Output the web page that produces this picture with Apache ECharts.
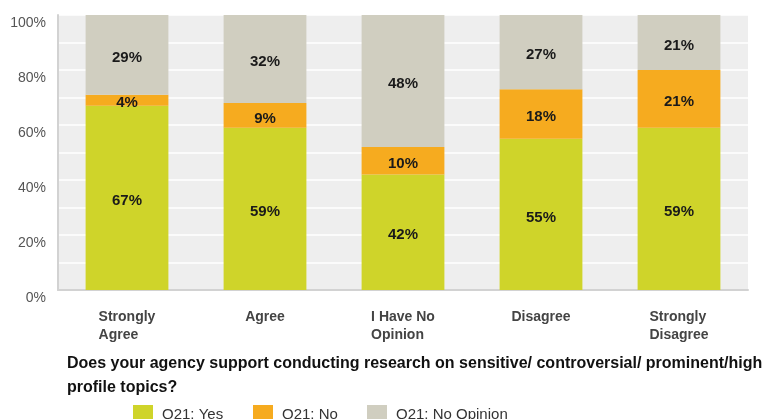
<!DOCTYPE html>
<html>
<head>
<meta charset="utf-8">
<script src="https://cdn.jsdelivr.net/npm/echarts@6/dist/echarts.min.js"></script>
<style>html,body{margin:0;padding:0;background:#fff}#c{width:767px;height:419px}</style>
</head>
<body>
<div id="c"></div>
<script>
const categories = ['Strongly\nAgree', 'Agree', 'I Have No\nOpinion', 'Disagree', 'Strongly\nDisagree'];
const yesValues = [67, 59, 42, 55, 59];
const noValues = [4, 9, 10, 18, 21];
const noOpinionValues = [29, 32, 48, 27, 21];
const seriesNames = ['Q21: Yes', 'Q21: No', 'Q21: No Opinion'];
const yTicks = [0, 20, 40, 60, 80, 100];
const titleText = 'Does your agency support conducting research on sensitive/ controversial/ prominent/high\nprofile topics?';

const colors = ['#cfd42a', '#f6ab1f', '#d0cec0'];
const font = 'Liberation Sans, Arial, sans-serif';

const chart = echarts.init(document.getElementById('c'), null, {renderer: 'canvas'});
const labelCfg = {
  show: true, position: 'inside', formatter: '{c}%', offset: [0, 3],
  fontFamily: font, fontWeight: 'bold', fontSize: 15, color: '#1a1a1a'
};
const legendLefts = [133, 253, 367];
chart.setOption({
  animation: false,
  title: {
    text: titleText, left: 67, top: 352, padding: 0,
    textStyle: {fontFamily: font, fontWeight: 'bold', fontSize: 16, color: '#111', lineHeight: 24}
  },
  legend: seriesNames.map((n, i) => ({
    data: [n], left: legendLefts[i], top: 405, padding: 0, itemWidth: 20, itemHeight: 20, itemGap: 8,
    icon: 'rect', textStyle: {fontFamily: font, fontSize: 15, color: '#333', padding: [0, 0, 0, 4]}
  })),
  grid: {left: 58, right: 19, top: 15, bottom: 129, show: true, backgroundColor: '#eeeeee', borderWidth: 0},
  xAxis: {
    type: 'category', data: categories,
    axisTick: {show: false},
    axisLine: {show: true, lineStyle: {color: '#d2d2d2', width: 2}},
    axisLabel: {
      margin: 18, fontFamily: font, fontWeight: 'bold', fontSize: 14, color: '#444', lineHeight: 18,
      formatter: v => v.split('\n').map(l => '{a|' + l + '}').join('\n'),
      rich: {a: {align: 'left', fontFamily: font, fontWeight: 'bold', fontSize: 14, color: '#444', lineHeight: 18}}
    }
  },
  yAxis: {
    type: 'value', min: 0, max: 100, interval: 10,
    axisLine: {show: true, lineStyle: {color: '#d2d2d2', width: 2}},
    axisTick: {show: false},
    splitLine: {show: true, lineStyle: {color: '#ffffff', width: 1.5}},
    axisLabel: {
      margin: 12, fontFamily: font, fontSize: 14, color: '#555', verticalAlign: 'top', padding: [1, 0, 0, 0],
      formatter: v => yTicks.indexOf(v) >= 0 ? v + '%' : ''
    }
  },
  series: [yesValues, noValues, noOpinionValues].map((d, i) => ({
    name: seriesNames[i], type: 'bar', stack: 'total', data: d, barWidth: '60%',
    itemStyle: {color: colors[i]}, label: labelCfg
  }))
});
</script>
</body>
</html>
